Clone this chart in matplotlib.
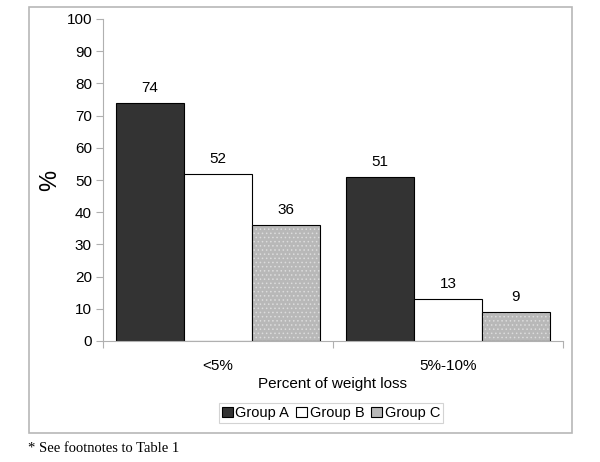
import matplotlib
matplotlib.use("Agg")
import matplotlib.pyplot as plt
from matplotlib.patches import Rectangle
import numpy as np

categories = ["<5%", "5%-10%"]
groups = ["Group A", "Group B", "Group C"]
group_a = [74, 51]
group_b = [52, 13]
group_c = [36, 9]
yticks = [0, 10, 20, 30, 40, 50, 60, 70, 80, 90, 100]

plt.rcParams['font.family'] = ['Liberation Sans', 'DejaVu Sans']
plt.rcParams['hatch.linewidth'] = 0.6
fig = plt.figure(figsize=(6, 4.62), dpi=100)
ax = fig.add_axes([103/600, 1-341/462, 460/600, 322/462])

# outer frame
fig.patches.append(Rectangle((29/600, 1-433/462), 543/600, 426/462, transform=fig.transFigure,
                             fill=False, edgecolor='#b8b8b8', linewidth=1.2))

x = np.arange(len(categories))
w = 0.295
series = [group_a, group_b, group_c]
faces = ['#333333', 'white', '#b8b8b8']
bars_all = []
for i, (vals, fc) in enumerate(zip(series, faces)):
    xs = x + (i - 1) * w
    if i == 2:
        # hatched light fill (hatch drawn in edge colour), then black outline
        ax.bar(xs, vals, w, facecolor=fc, edgecolor='#dcdcdc', hatch='....', linewidth=0)
        bars = ax.bar(xs, vals, w, facecolor='none', edgecolor='black', linewidth=0.8)
    else:
        bars = ax.bar(xs, vals, w, facecolor=fc, edgecolor='black', linewidth=0.8)
    bars_all.append(bars)
    for b, v in zip(bars, vals):
        ax.text(b.get_x() + b.get_width() / 2, v + 2.5, str(v), ha='center', va='bottom', fontsize=11)

ax.set_xlim(-0.5, 1.5)
ax.set_ylim(0, 100)
ax.set_yticks(yticks)
ax.tick_params(axis='y', labelsize=11, color='#b0b0b0', length=5, width=0.8, pad=3)
ax.set_xticks(x)
ax.set_xticklabels(categories, fontsize=11)
ax.tick_params(axis='x', length=0, pad=13)
ax.set_xticks([-0.5, 0.5, 1.5], minor=True)
ax.tick_params(axis='x', which='minor', length=5, color='#b0b0b0', width=0.8)
for s in ['top', 'right']:
    ax.spines[s].set_visible(False)
for s in ['left', 'bottom']:
    ax.spines[s].set_color('#b0b0b0')
    ax.spines[s].set_linewidth(0.8)

ax.set_xlabel("Percent of weight loss", fontsize=11, labelpad=3)
ax.set_ylabel("%", fontsize=17, labelpad=4)

# legend handles
h_a = Rectangle((0, 0), 1, 1, facecolor=faces[0], edgecolor='black', linewidth=0.8)
h_b = Rectangle((0, 0), 1, 1, facecolor=faces[1], edgecolor='black', linewidth=0.8)
h_c = Rectangle((0, 0), 1, 1, facecolor=faces[2], edgecolor='black', linewidth=0.8)
leg = fig.legend(handles=[h_a, h_b, h_c], labels=groups, loc='center', bbox_to_anchor=(331/600, 1-413/462),
                 ncol=3, fontsize=10.5, frameon=True, fancybox=False, edgecolor='#c8c8c8',
                 handlelength=0.75, handleheight=0.75, handletextpad=0.15, columnspacing=0.5,
                 borderpad=0.2)
leg.get_frame().set_linewidth(0.8)

fig.text(28/600, 1-448/462, "* See footnotes to Table 1", family=['Liberation Serif'], fontsize=10.5,
         ha='left', va='center')

fig.savefig("out.png", dpi=100)
